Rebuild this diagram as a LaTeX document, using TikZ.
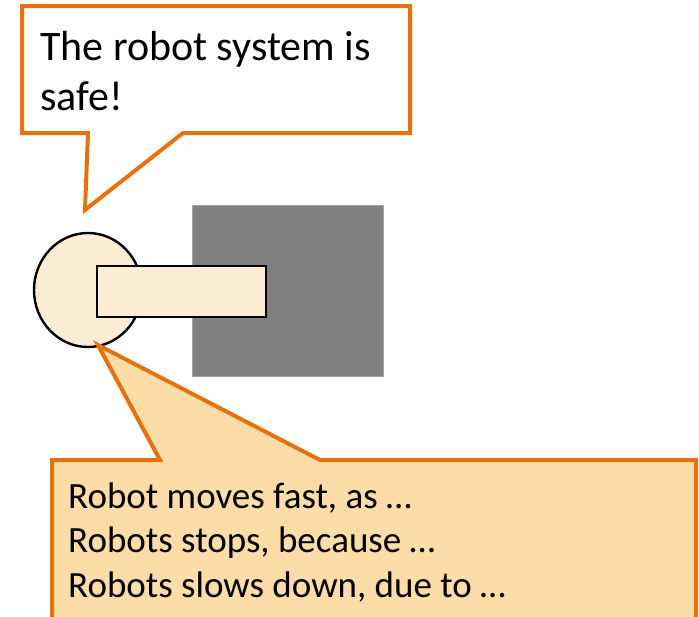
\documentclass[tikz,border=0pt]{standalone}
\usepackage{fontspec}
\setmainfont{Carlito}
\usepackage{xcolor}
\usetikzlibrary{calc}
\definecolor{calloutline}{HTML}{E8710F}
\definecolor{calloutfill}{HTML}{FCDCA7}
\definecolor{robotfill}{HTML}{FDEDD5}
\tikzset{
  callout/.style={draw=calloutline, line width=4pt, line join=miter},
  robotpart/.style={draw=black, fill=robotfill, line width=2.4pt},
  obstacle/.style={draw=gray!70, fill=gray, line width=1pt},
  calltext/.style={anchor=base west, align=left, inner sep=0pt},
}

\begin{document}
\begin{tikzpicture}[x=1pt, y=-1pt]
  \useasboundingbox (0,0) rectangle (699,616);
  % obstacle
  \draw[obstacle] (192,205) rectangle (383,376);
  % robot base and arm
  \draw[robotpart] (88,290) ellipse (54 and 57);
  \draw[robotpart] (97,266) rectangle (266,317);
  % upper callout
  \draw[callout, fill=white] (22,6) -- (410,6) -- (410,133) -- (183,133)
    -- (85,210) -- (88,133) -- (22,133) -- cycle;
  \node[calltext, font=\fontsize{42}{50}\selectfont] (safe) at (40,110)
    {The robot system is\\safe!};
  % lower callout
  \draw[callout, fill=calloutfill] (52,460) -- (160,460) -- (98,345)
    -- (320,460) -- (696,460) -- (696,640) -- (52,640) -- cycle;
  \node[calltext, font=\fontsize{37}{44.5}\selectfont] (reasons) at (68,597)
    {Robot moves fast, as …\\Robots stops, because …\\Robots slows down, due to …};
\end{tikzpicture}
\end{document}
